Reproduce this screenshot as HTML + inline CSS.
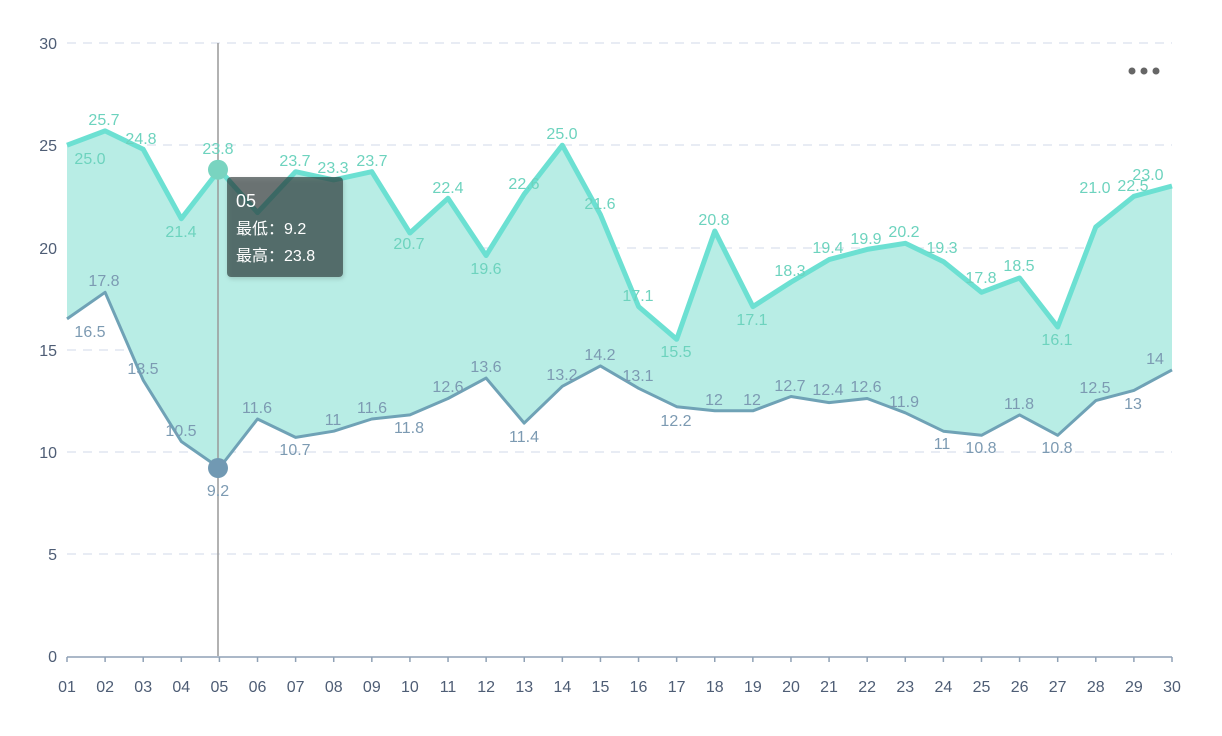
<!DOCTYPE html>
<html><head><meta charset="utf-8"><style>
html,body{margin:0;padding:0;background:#fff}
svg{display:block;font-family:"Liberation Sans","Noto Sans CJK SC",sans-serif}
</style></head><body>
<svg width="1222" height="736" viewBox="0 0 1222 736" xmlns="http://www.w3.org/2000/svg">
<defs><filter id="sh" x="-20%" y="-20%" width="140%" height="140%"><feDropShadow dx="1" dy="2" stdDeviation="2" flood-color="#000" flood-opacity="0.25"/></filter></defs>
<g stroke="#e0e6f1" stroke-width="1.5" stroke-dasharray="9,7">
<line x1="67" y1="43" x2="1172" y2="43"/><line x1="67" y1="145" x2="1172" y2="145"/>
<line x1="67" y1="248" x2="1172" y2="248"/><line x1="67" y1="350" x2="1172" y2="350"/>
<line x1="67" y1="452" x2="1172" y2="452"/><line x1="67" y1="554" x2="1172" y2="554"/>
</g>
<g fill="#4e5d75" font-size="16" text-anchor="end">
<text x="57" y="49">30</text><text x="57" y="151">25</text><text x="57" y="254">20</text>
<text x="57" y="356">15</text><text x="57" y="458">10</text><text x="57" y="560">5</text><text x="57" y="662">0</text>
</g>
<g id="chart"></g>
<circle cx="1132" cy="71" r="3.5" fill="#666"/><circle cx="1144" cy="71" r="3.5" fill="#666"/><circle cx="1156" cy="71" r="3.5" fill="#666"/>
</svg>
<script>
const hi=[25.0,25.7,24.8,21.4,23.8,21.7,23.7,23.3,23.7,20.7,22.4,19.6,22.6,25.0,21.6,17.1,15.5,20.8,17.1,18.3,19.4,19.9,20.2,19.3,17.8,18.5,16.1,21.0,22.5,23.0];
const lo=[16.5,17.8,13.5,10.5,9.2,11.6,10.7,11,11.6,11.8,12.6,13.6,11.4,13.2,14.2,13.1,12.2,12,12,12.7,12.4,12.6,11.9,11,10.8,11.8,10.8,12.5,13,14];
const hl=[[90,158],[104,119],[141,138],[181,231],[218,148],[257,260],[295,160],[333,167],[372,160],[409,243],[448,187],[486,268],[524,183],[562,133],[600,203],[638,295],[676,351],[714,219],[752,319],[790,270],[828,247],[866,238],[904,231],[942,247],[981,277],[1019,265],[1057,339],[1095,187],[1133,185],[1148,174]];
const ll=[[90,331],[104,280],[143,368],[181,430],[218,490],[257,407],[295,449],[333,419],[372,407],[409,427],[448,386],[486,366],[524,436],[562,374],[600,354],[638,375],[676,420],[714,399],[752,399],[790,385],[828,389],[866,386],[904,401],[942,443],[981,447],[1019,403],[1057,447],[1095,387],[1133,403],[1155,358]];
const X=i=>67+i*1105/29, Y=v=>656-v*20.433;
let s='';
const ph=hi.map((v,i)=>X(i).toFixed(1)+','+Y(v).toFixed(1));
const pl=lo.map((v,i)=>X(i).toFixed(1)+','+Y(v).toFixed(1));
s+=`<polygon points="${ph.join(' ')} ${pl.slice().reverse().join(' ')}" fill="#b8ede5"/>`;
s+=`<line x1="218" y1="43" x2="218" y2="656" stroke="#999" stroke-width="1.5"/>`;
s+=`<polyline points="${pl.join(' ')}" fill="none" stroke="#6fa2b6" stroke-width="3" stroke-linejoin="round"/>`;
s+=`<polyline points="${ph.join(' ')}" fill="none" stroke="#6ce0d2" stroke-width="5" stroke-linejoin="round"/>`;
s+=`<line x1="67" y1="657" x2="1172" y2="657" stroke="#8fa1b5" stroke-width="1.5"/>`;
for(let i=0;i<30;i++){const x=X(i);s+=`<line x1="${x}" y1="657" x2="${x}" y2="662" stroke="#8fa1b5" stroke-width="1.5"/>`;
s+=`<text x="${x}" y="692" fill="#4e5d75" font-size="16" text-anchor="middle">${String(i+1).padStart(2,'0')}</text>`;
if(i!=5)s+=`<text x="${hl[i][0]}" y="${hl[i][1]+6}" fill="#6dd3be" font-size="16" text-anchor="middle">${hi[i].toFixed(1)}</text>`;
s+=`<text x="${ll[i][0]}" y="${ll[i][1]+6}" fill="#7c9ab2" font-size="16" text-anchor="middle">${lo[i]}</text>`;}
s+=`<circle cx="218" cy="${Y(23.8)}" r="10" fill="#79d4c0"/><circle cx="218" cy="${Y(9.2)}" r="10" fill="#7199b3"/>`;
s+=`<rect x="227" y="177" width="116" height="100" rx="4" fill="rgba(40,50,50,0.62)" filter="url(#sh)"/>`;
s+=`<text x="236" y="207" fill="#fff" font-size="18">05</text>`;
s+=`<text x="236" y="234" fill="#fff" font-size="16">最低：9.2</text>`;
s+=`<text x="236" y="261" fill="#fff" font-size="16">最高：23.8</text>`;
document.getElementById('chart').innerHTML=s;
</script>
</body></html>
